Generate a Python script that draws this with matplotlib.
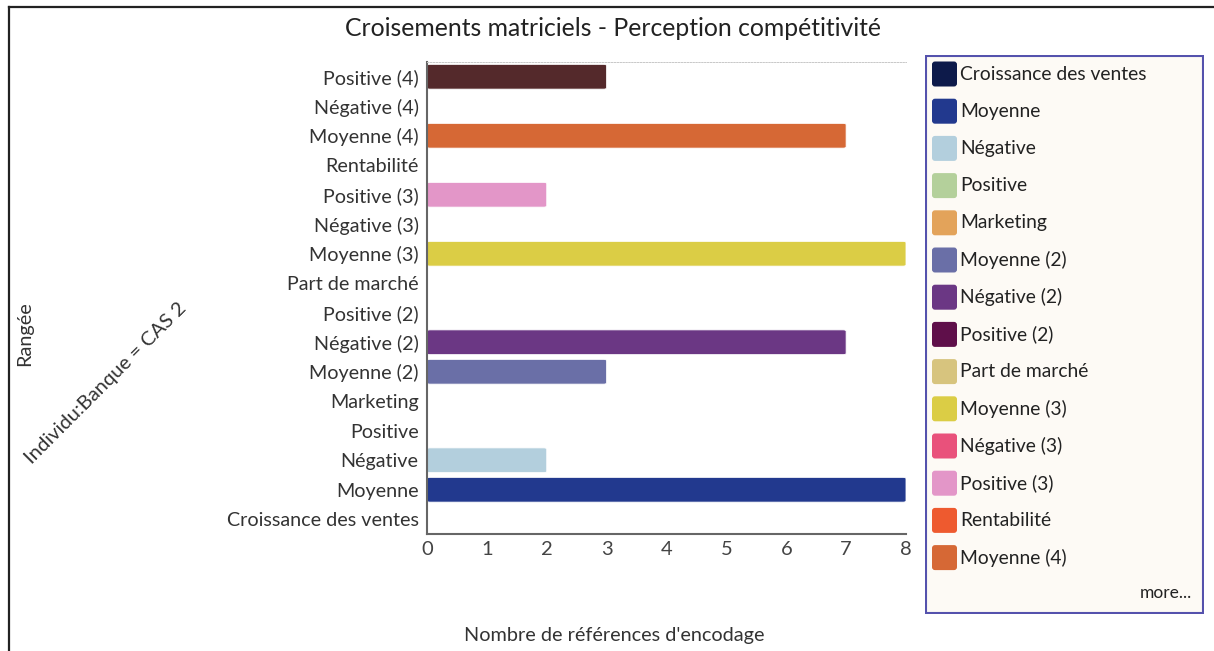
import matplotlib
matplotlib.use("Agg")
import matplotlib.pyplot as plt
from matplotlib.patches import FancyBboxPatch, Rectangle
from matplotlib.lines import Line2D

plt.rcParams['font.family'] = ['Lato', 'DejaVu Sans']

# Catégories (de bas en haut) et nombre de références d'encodage
categories = ["Croissance des ventes", "Moyenne", "Négative", "Positive",
              "Marketing", "Moyenne (2)", "Négative (2)", "Positive (2)",
              "Part de marché", "Moyenne (3)", "Négative (3)", "Positive (3)",
              "Rentabilité", "Moyenne (4)", "Négative (4)", "Positive (4)"]
valeurs = [0, 8, 2, 0, 0, 3, 7, 0, 0, 8, 0, 2, 0, 7, 0, 3]
couleurs = ["#0d1a4a", "#22398e", "#b3cfdd", "#b4d09b",
            "#e3a35a", "#6a6fa7", "#6b3784", "#5f0f4a",
            "#d7c47e", "#dbcd45", "#e9517b", "#e396c8",
            "#ee5a2f", "#d66835", "#8b4a2b", "#54292b"]
nb_legende = 14  # le reste est caché derrière "more..."

W, H = 1214, 651
fig = plt.figure(figsize=(W / 100, H / 100), dpi=100)

# Cadre noir autour du graphique (ouvert à droite et en bas)
for (x0, y0, x1, y1) in [(9, 7, 9, H), (9, 7, W, 7)]:
    fig.add_artist(Line2D([x0 / W, x1 / W], [1 - y0 / H, 1 - y1 / H],
                          color="#222222", lw=1.6))

ax = fig.add_axes([427 / W, 1 - 534 / H, (906 - 427) / W, (534 - 62) / H])
y = range(len(categories))
bars = ax.barh(y, valeurs, height=0.84, color=couleurs)
# coins arrondis
for b in bars:
    b.set_visible(False)
    if b.get_width() > 0:
        ax.add_patch(FancyBboxPatch((b.get_x(), b.get_y()), b.get_width(), b.get_height(),
                                    boxstyle="round,pad=0,rounding_size=0.05",
                                    mutation_aspect=0.8,
                                    fc=b.get_facecolor(), ec="white", lw=0.6))

ax.set_xlim(0, 8)
ax.set_ylim(-0.5, len(categories) - 0.5)
ax.set_yticks(list(y))
ax.set_yticklabels(categories, fontsize=14.2, color="#333333")
ax.set_xticks(range(9))
ax.tick_params(axis='x', labelsize=14.5, labelcolor="#444444", length=0, pad=5)
ax.tick_params(axis='y', length=0, pad=6)
ax.spines["right"].set_visible(False)
ax.spines["top"].set_linestyle((0, (1.5, 1.5)))
ax.spines["top"].set_color("#c8c8c8")
ax.spines["top"].set_linewidth(0.7)
ax.spines["left"].set_color("#666666")
ax.spines["bottom"].set_color("#666666")
ax.spines["left"].set_linewidth(1.5)
ax.spines["bottom"].set_linewidth(1.5)

fig.text(613 / W, 1 - 28 / H, "Croisements matriciels - Perception compétitivité",
         fontsize=17.8, color="#222222", ha="center", va="center")
fig.text(614 / W, 1 - 636 / H, "Nombre de références d'encodage",
         fontsize=14.3, color="#333333", ha="center", va="center")
fig.text(25 / W, 1 - 334 / H, "Rangée", fontsize=14.3, color="#333333",
         rotation=90, ha="center", va="center")
fig.text(106 / W, 1 - 383 / H, "Individu:Banque = CAS 2", fontsize=14.5, color="#333333",
         rotation=45, ha="center", va="center", rotation_mode="anchor")

# Légende
lx0, ly0, lx1, ly1 = 925, 55, 1204, 614
leg = fig.add_axes([lx0 / W, 1 - ly1 / H, (lx1 - lx0) / W, (ly1 - ly0) / H])
leg.set_xlim(lx0, lx1)
leg.set_ylim(ly1, ly0)
leg.axis("off")
leg.add_patch(Rectangle((lx0 + 1, ly0 + 1), lx1 - lx0 - 2, ly1 - ly0 - 2,
                        fc="#fdfaf5", ec="#5552ad", lw=1.5))
for i in range(nb_legende):
    cy = 74 + i * 37.2
    leg.add_patch(FancyBboxPatch((932, cy - 12.5), 25, 25,
                                 boxstyle="round,pad=0,rounding_size=3",
                                 fc=couleurs[i], ec="none"))
    leg.text(960, cy, categories[i], fontsize=13.9, color="#222222", va="center", ha="left")
leg.text(1192, 593, "more...", fontsize=12.5, color="#222222", va="center", ha="right")

fig.savefig("out.png", dpi=100, facecolor="white")
